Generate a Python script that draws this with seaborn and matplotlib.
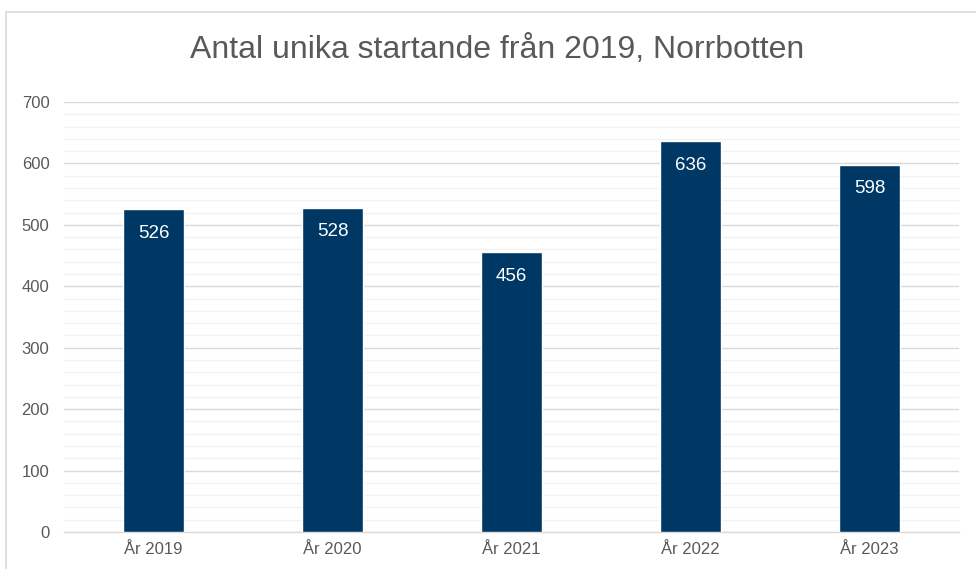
import matplotlib
matplotlib.use("Agg")
import matplotlib.pyplot as plt
import seaborn as sns
import pandas as pd
from matplotlib.lines import Line2D

categories = ["År 2019", "År 2020", "År 2021", "År 2022", "År 2023"]
values = [526, 528, 456, 636, 598]
title = "Antal unika startande från 2019, Norrbotten"
yticks = [0, 100, 200, 300, 400, 500, 600, 700]

sns.set_theme(style="white")
plt.rcParams["font.family"] = ["Liberation Sans", "DejaVu Sans"]

df = pd.DataFrame({"cat": categories, "val": values})

W, H = 976, 569
fig = plt.figure(figsize=(W / 100, H / 100), dpi=100)
ax = fig.add_axes([64 / W, 1 - 532 / H, (959 - 64) / W, (532 - 102) / H])

bar_color = "#003865"
sns.barplot(data=df, x="cat", y="val", color=bar_color, width=0.345,
            saturation=1, ax=ax, zorder=3)

ax.set_ylim(0, 700)
ax.set_xlim(-0.5, len(categories) - 0.5)
ax.set_yticks(yticks)
ax.set_yticks(range(0, 701, 20), minor=True)
ax.grid(axis="y", which="major", color="#d9d9d9", linewidth=1.0, zorder=0)
ax.grid(axis="y", which="minor", color="#f2f2f2", linewidth=1.0, zorder=0)
ax.set_axisbelow(True)
for s in ["top", "right", "left"]:
    ax.spines[s].set_visible(False)
ax.spines["bottom"].set_color("#d9d9d9")
ax.spines["bottom"].set_linewidth(1.0)
ax.tick_params(axis="y", which="both", length=0, pad=10.5, labelsize=12, labelcolor="#595959")
ax.tick_params(axis="x", length=0, pad=7.5, labelsize=12, labelcolor="#595959")
ax.set_xlabel("")
ax.set_ylabel("")

for i, v in enumerate(values):
    ax.annotate(str(v), (i, v), xytext=(0, -17.5), textcoords="offset points",
                ha="center", va="center", color="white", fontsize=13.5, zorder=5)

fig.text(497 / W, 1 - 50 / H, title, ha="center", va="center",
         fontsize=23, color="#595959")

# chart frame (cropped at right/bottom)
fig.add_artist(Line2D([6 / W, 6 / W], [0, 1 - 12 / H], transform=fig.transFigure,
                      color="#d9d9d9", linewidth=1.2))
fig.add_artist(Line2D([6 / W, 1], [1 - 12 / H, 1 - 12 / H], transform=fig.transFigure,
                      color="#d9d9d9", linewidth=1.2))

fig.savefig("out.png", dpi=100, facecolor="white")
